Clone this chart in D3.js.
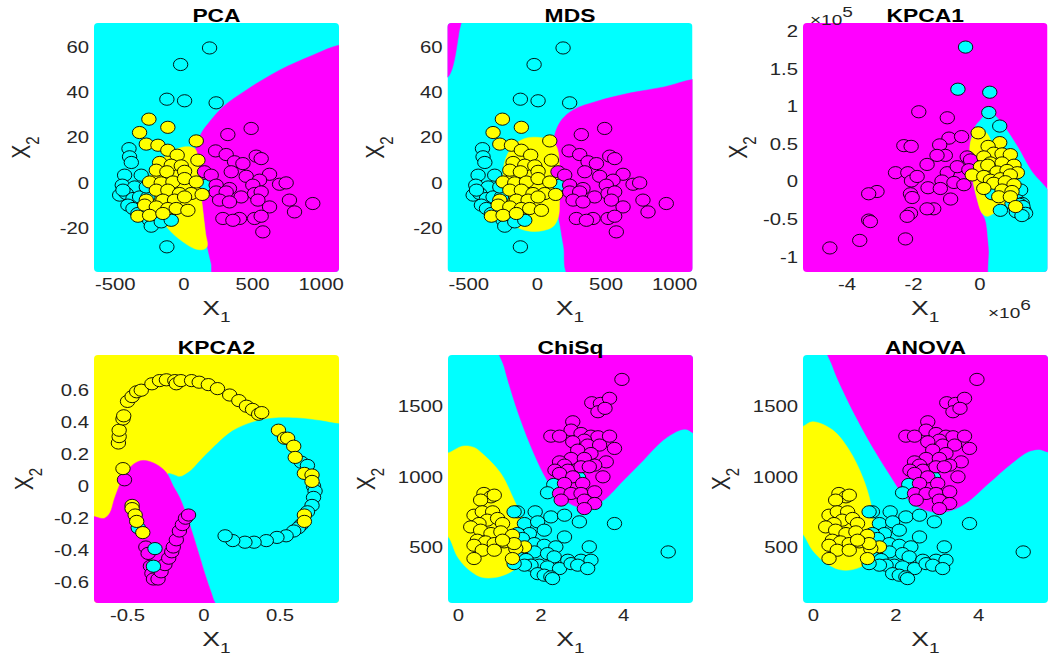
<!DOCTYPE html>
<html><head><meta charset="utf-8">
<script src="https://cdn.jsdelivr.net/npm/d3@7"></script>
<style>body{margin:0;background:#fff}svg{display:block}text{font-family:"Liberation Sans",Arial,Helvetica,sans-serif}</style>
</head><body><svg id="c" width="1049" height="658"></svg>
<script>
// ---------- tick labels ----------
const pcaXTicks=[-500,0,500,1000], pcaYTicks=[-20,0,20,40,60];
const kpca1XTicks=[-4,-2,0], kpca1YTicks=[-1,-0.5,0,0.5,1,1.5,2];
const kpca2XTicks=[-0.5,0,0.5], kpca2YTicks=[-0.6,-0.4,-0.2,0,0.2,0.4,0.6];
const featXTicks=[0,2,4], featYTicks=[500,1000,1500];
// ---------- axis domains ----------
const pcaXDomain=[-655,1130], pcaYDomain=[-39.3,70.5];
const kpca1XDomain=[-5.33,2.04], kpca1YDomain=[-1.2,2.11];
const kpca2XDomain=[-0.72,0.887], kpca2YDomain=[-0.73,0.82];
const featXDomain=[-0.25,5.68], featYDomain=[106,1863];

// ---------- PCA / MDS scores (same embedding) ----------
const pcaCyan=[[187,59.5],[-24,52.2],[-124,36.9],[5,36.2],[235,35.3],[-400,15.1],[-396,11.5],[-383,9],[-432,3.4],[-311,3.4],[-449,-1],[-359,-1.8],[-468,-5.4],[-420,-4.7],[-371,-6.9],[-323,-6.2],[-262,-6.2],[-408,-9.8],[-371,-11.3],[-335,-13.5],[-250,-16.5],[-238,-19.1],[-165,-17.2],[-92,-16.5],[-124,-28.2],[163,-1],[-444,-3.2],[-274,-1.8]];
const pcaMagenta=[[490,24],[320,21.3],[231,14.1],[308,12.5],[369,9.3],[527,11.8],[563,10.7],[430,8.5],[150,4.9],[345,4.9],[199,3.4],[454,2.9],[624,3.8],[551,1.2],[235,-1],[332,-2.5],[502,-1],[697,-0.6],[745,0],[235,-4],[308,-4],[417,-6.2],[515,-4.7],[563,-4],[769,-7.6],[939,-9.1],[260,-7.6],[332,-8.4],[539,-7.6],[624,-10.6],[806,-12.8],[284,-15.7],[405,-15.7],[515,-15.7],[563,-14.7],[575,-21.6],[357,-16.5]];
const pcaYellow=[[-255,28.1],[-323,22.2],[-117,24.5],[90,18.5],[-274,17.1],[-189,16.6],[-117,14.4],[-49,12.2],[102,10],[-177,9],[-92,7.8],[-19,7.5],[-201,5.6],[-124,4.9],[5,5.1],[-250,0.4],[-165,0],[-80,0.4],[5,1.9],[90,0.4],[-201,-3.2],[-117,-3.2],[-32,-4.7],[53,-4.7],[133,-5.1],[-274,-7.6],[-153,-7.6],[-68,-7.6],[5,-6.2],[-286,-9.8],[-201,-10.6],[-117,-11.3],[-56,-11.3],[29,-12.1],[-335,-14.7],[-250,-14.3],[-153,-13.5]];

// ---------- KPCA1 scores (x in 1e6, y in 1e5) ----------
const kpca1Cyan=[[-0.43,1.79],[-0.66,1.23],[0.30,1.19],[0.27,0.92],[0.60,0.74],[1.23,-0.11],[1.13,-0.25],[1.28,-0.29],[1.18,-0.36],[1.33,-0.38],[1.23,-0.42],[0.97,-0.29],[0.62,-0.38],[0.32,-0.07],[0.37,-0.16],[1.20,-0.30],[1.30,-0.33],[1.10,-0.40],[1.38,-0.42],[1.27,-0.45]];
const kpca1Magenta=[[-1.84,0.93],[-0.98,0.85],[-0.93,0.58],[-0.55,0.60],[-1.21,0.49],[-2.29,0.48],[-2.07,0.47],[-1.04,0.35],[-1.29,0.35],[-1.59,0.23],[-2.54,0.12],[-2.17,0.12],[-0.98,0.12],[-0.68,0.20],[-0.38,0.33],[-2.06,0.01],[-1.14,0.01],[-0.78,-0.01],[-1.89,0.07],[-3.10,-0.13],[-3.35,-0.16],[-1.56,-0.08],[-1.19,-0.09],[-0.48,-0.04],[-2.09,-0.16],[-2.04,-0.21],[-0.88,-0.23],[-1.39,-0.36],[-1.59,-0.36],[-2.09,-0.42],[-2.19,-0.46],[-3.35,-0.51],[-3.30,-0.53],[-3.62,-0.78],[-4.52,-0.88],[-2.24,-0.76],[-0.28,0.29],[-0.33,0.16]];
const kpca1Yellow=[[-0.05,0.65],[0.60,0.52],[0.25,0.47],[0.42,0.38],[0.67,0.37],[0.92,0.36],[0.12,0.33],[0.32,0.25],[0.67,0.25],[1.03,0.22],[0.02,0.20],[-0.23,0.09],[0.24,0.22],[0.52,0.13],[0.82,0.15],[1.13,0.12],[0.12,0.07],[0.32,0.02],[0.62,0.04],[0.92,0.09],[0.42,-0.02],[0.77,0],[1.03,-0.04],[0.12,-0.09],[0.67,-0.11],[0.97,-0.13],[0.57,-0.20],[0.92,-0.20],[1.08,-0.33]];

// ---------- KPCA2 scores ----------
const kpca2Cyan=[[0.64,0.15],[0.68,0.13],[0.72,0],[0.73,-0.03],[0.72,-0.07],[0.71,-0.12],[0.68,-0.16],[0.64,-0.24],[0.62,-0.26],[0.59,-0.28],[0.54,-0.31],[0.48,-0.32],[0.41,-0.34],[0.33,-0.35],[0.27,-0.35],[0.19,-0.34],[0.14,-0.31],[-0.43,-0.26],[-0.32,-0.39],[-0.33,-0.50]];
const kpca2Magenta=[[-0.52,0.04],[-0.38,-0.38],[-0.365,-0.42],[-0.35,-0.50],[-0.34,-0.545],[-0.33,-0.58],[-0.30,-0.58],[-0.28,-0.535],[-0.255,-0.49],[-0.23,-0.45],[-0.21,-0.41],[-0.20,-0.38],[-0.18,-0.335],[-0.16,-0.28],[-0.14,-0.24],[-0.12,-0.20],[-0.10,-0.18]];
const kpca2Yellow=[[-0.53,0.11],[-0.56,0.27],[-0.555,0.31],[-0.555,0.35],[-0.53,0.42],[-0.525,0.44],[-0.50,0.53],[-0.47,0.56],[-0.44,0.59],[-0.41,0.60],[-0.34,0.64],[-0.29,0.66],[-0.245,0.665],[-0.19,0.66],[-0.18,0.64],[-0.15,0.66],[-0.08,0.66],[-0.03,0.65],[0.03,0.635],[0.09,0.61],[0.17,0.57],[0.23,0.535],[0.28,0.50],[0.32,0.48],[0.36,0.45],[0.38,0.46],[0.49,0.35],[0.53,0.30],[0.55,0.30],[0.59,0.25],[0.60,0.18],[0.66,0.08],[0.71,0.07],[0.71,0.03],[0.66,-0.18],[0.66,-0.22],[-0.47,-0.12],[-0.47,-0.14],[-0.45,-0.18],[-0.44,-0.22],[-0.40,-0.29]];

// ---------- ChiSq / ANOVA selected features ----------
const featCyan=[[2.91,995],[2.31,946],[2.16,887],[1.86,752],[1.43,752],[2.24,716],[2.57,728],[2.93,681],[3.78,669],[1.60,669],[1.92,681],[2.08,622],[1.72,598],[2.57,574],[1.43,598],[1.55,563],[1.84,527],[2.08,515],[2.36,504],[3.17,504],[1.60,480],[1.84,468],[2.16,456],[1.43,433],[1.64,414],[2.32,433],[2.65,409],[2.97,409],[3.21,409],[1.96,374],[1.76,374],[1.60,374],[2.16,362],[2.45,350],[2.73,385],[2.89,374],[3.13,350],[1.92,314],[2.08,303],[2.24,291],[2.28,279],[1.35,385],[5.08,468],[1.35,752]];
const featMagenta=[[3.96,1690],[3.23,1525],[3.44,1520],[3.66,1556],[3.38,1461],[3.55,1485],[2.77,1390],[2.73,1331],[2.24,1288],[2.45,1288],[2.97,1307],[3.21,1288],[3.38,1284],[3.66,1288],[3.05,1260],[2.77,1248],[3.13,1225],[3.42,1225],[3.78,1201],[2.89,1189],[3.21,1165],[2.73,1130],[3.05,1130],[3.58,1106],[2.45,1106],[2.57,1083],[3.30,1083],[2.34,1047],[2.65,1047],[2.97,1071],[3.17,1071],[2.45,1024],[2.77,1000],[3.50,1000],[3.01,953],[2.57,953],[2.45,882],[2.73,882],[2.97,882],[3.30,894],[2.49,835],[3.05,835],[3.30,811],[3.05,775]];
const featYellow=[[0.62,882],[0.79,858],[0.87,870],[0.54,835],[0.38,728],[0.58,752],[0.83,752],[0.70,693],[0.95,705],[1.07,669],[0.50,669],[0.30,645],[0.54,622],[0.79,598],[1.03,610],[1.31,586],[0.46,551],[0.66,539],[0.87,527],[1.11,539],[1.60,504],[1.39,492],[0.38,515],[0.58,480],[0.87,480],[1.35,527],[0.38,421],[1.31,421],[1.07,551]];

// ---------- predicted-class regions (boundary outlines, data units) ----------
const pcaMagentaRegion=[[1250,60.7],[1130,60.7],[939,56.3],[697,49.7],[454,40.9],[284,33.5],[187,26.9],[126,21.8],[100,17],[85,14.7],[104,10],[119,-1.8],[138,-12.1],[158,-22.3],[170,-27.9],[199,-35.6],[222,-42],[1250,-42]];
const pcaYellowRegion=[[41,15.9],[85,14.7],[104,10],[119,-1.8],[138,-12.1],[158,-22.3],[170,-27.9],[138,-29.4],[78,-29],[-7,-26],[-104,-20.9],[-189,-13.5],[-245,-4.7],[-245,2.6],[-189,8.5],[-104,13.2],[-32,15.4]];
const mdsMagentaCorner=[[-720,75],[-555,75],[-572,66.2],[-587,60.3],[-604,54.4],[-628,49.2],[-653,46.7],[-720,45]];
const mdsMagentaRegion=[[1250,45.6],[1132,45.6],[924,42.3],[680,39.7],[435,36],[264,32.3],[178,27.9],[130,22],[122,17.6],[147,14.7],[161,7.4],[161,-7.4],[154,-14.7],[166,-19],[191,-28],[240,-42],[1250,-42]];
const mdsYellowRegion=[[-5,20.1],[68,19.4],[122,17.6],[147,14.7],[161,7.4],[161,-7.4],[154,-14.7],[117,-19.1],[44,-21],[-54,-21.3],[-139,-19.8],[-200,-16.2],[-237,-10.3],[-249,-1.5],[-245,7.4],[-213,13.2],[-152,17.6],[-78,19.8]];
const kpca1CyanRegion=[[0.02,0.82],[0.20,0.90],[0.42,0.89],[0.72,0.74],[1.13,0.47],[1.53,0.16],[2.3,-0.3],[2.3,-1.4],[0.39,-1.4],[0.27,-0.87],[0.17,-0.51],[0.07,-0.42],[-0.10,-0.20],[-0.23,0.07],[-0.30,0.33],[-0.26,0.56],[-0.13,0.74]];
const kpca1YellowRegion=[[-0.03,0.70],[0.20,0.65],[0.42,0.47],[0.82,0.20],[1.08,-0.07],[0.82,-0.29],[0.42,-0.42],[0.22,-0.46],[0.07,-0.42],[-0.10,-0.20],[-0.23,0.07],[-0.30,0.33],[-0.26,0.56]];
const kpca2CyanRegion=[[1.0,0.39],[0.887,0.39],[0.76,0.41],[0.63,0.425],[0.455,0.425],[0.32,0.40],[0.19,0.346],[0.06,0.24],[-0.026,0.157],[-0.09,0.094],[-0.157,0.059],[-0.19,0.069],[-0.234,0.078],[-0.2,0.0],[-0.157,-0.073],[-0.092,-0.241],[-0.037,-0.409],[0.017,-0.577],[0.061,-0.70],[0.09,-0.8],[1.0,-0.8]];
const kpca2MagentaRegion=[[-0.8,-0.19],[-0.72,-0.19],[-0.68,-0.20],[-0.65,-0.20],[-0.616,-0.168],[-0.584,-0.073],[-0.53,0.052],[-0.463,0.136],[-0.398,0.161],[-0.31,0.136],[-0.245,0.084],[-0.2,0.0],[-0.157,-0.073],[-0.092,-0.241],[-0.037,-0.409],[0.017,-0.577],[0.061,-0.70],[0.09,-0.8],[-0.8,-0.8]];
const chiMagentaRegion=[[0.97,1950],[1.11,1780],[1.27,1615],[1.51,1402],[1.83,1165],[2.15,976],[2.47,858],[2.88,787],[3.2,787],[3.52,835],[4.0,976],[4.48,1118],[4.96,1260],[5.37,1331],[5.53,1336],[5.8,1300],[5.8,1950]];
const chiYellowRegion=[[-0.4,1170],[-0.24,1170],[0.10,1217],[0.38,1208],[0.62,1154],[1.03,1024],[1.35,835],[1.60,669],[1.76,504],[1.60,409],[1.27,326],[0.87,286],[0.54,291],[0.22,350],[-0.02,433],[-0.24,574],[-0.4,600]];
const anovaMagentaRegion=[[0.33,1950],[0.47,1780],[0.71,1615],[1.03,1426],[1.43,1213],[1.83,1024],[2.23,858],[2.71,764],[3.2,752],[3.68,811],[4.24,953],[4.8,1095],[5.2,1177],[5.45,1194],[5.8,1180],[5.8,1950]];
const anovaYellowRegion=[[-0.4,1355],[-0.27,1355],[-0.02,1390],[0.47,1331],[0.87,1189],[1.19,1000],[1.39,811],[1.47,622],[1.43,480],[1.27,385],[0.95,343],[0.63,343],[0.27,397],[-0.02,480],[-0.27,598],[-0.4,610]];

// ---------- drawing ----------
const COL={C:"#00ffff",M:"#ff00ff",Y:"#ffff00"};
const SX=1.27, TXT="#262626";
const svg=d3.select("#c");

const panels=[
 {title:"PCA",rect:[94,23,339,272],xd:pcaXDomain,yd:pcaYDomain,xt:pcaXTicks,yt:pcaYTicks,bg:"C",
  regions:[["M",pcaMagentaRegion],["Y",pcaYellowRegion]],pts:[["C",pcaCyan],["M",pcaMagenta],["Y",pcaYellow]],ylx:23},
 {title:"MDS",rect:[447.5,23,692.5,272],xd:pcaXDomain,yd:pcaYDomain,xt:pcaXTicks,yt:pcaYTicks,bg:"C",
  regions:[["M",mdsMagentaCorner],["M",mdsMagentaRegion],["Y",mdsYellowRegion]],pts:[["C",pcaCyan],["M",pcaMagenta],["Y",pcaYellow]],ylx:377},
 {title:"KPCA1",rect:[803,23,1047.5,272],xd:kpca1XDomain,yd:kpca1YDomain,xt:kpca1XTicks,yt:kpca1YTicks,bg:"M",
  regions:[["C",kpca1CyanRegion],["Y",kpca1YellowRegion]],pts:[["M",kpca1Magenta],["C",kpca1Cyan],["Y",kpca1Yellow]],ylx:740,exp:true},
 {title:"KPCA2",rect:[94,355,339,603],xd:kpca2XDomain,yd:kpca2YDomain,xt:kpca2XTicks,yt:kpca2YTicks,bg:"Y",
  regions:[["C",kpca2CyanRegion],["M",kpca2MagentaRegion]],pts:[["M",kpca2Magenta],["C",kpca2Cyan],["Y",kpca2Yellow]],ylx:26},
 {title:"ChiSq",rect:[448,355,693,603],xd:featXDomain,yd:featYDomain,xt:featXTicks,yt:featYTicks,bg:"C",
  regions:[["M",chiMagentaRegion],["Y",chiYellowRegion]],pts:[["C",featCyan],["M",featMagenta],["Y",featYellow]],ylx:368},
 {title:"ANOVA",rect:[803,355,1048,603],xd:featXDomain,yd:featYDomain,xt:featXTicks,yt:featYTicks,bg:"C",
  regions:[["M",anovaMagentaRegion],["Y",anovaYellowRegion]],pts:[["C",featCyan],["M",featMagenta],["Y",featYellow]],ylx:723}
];

function stext(g,x,y,opts){
  const t=g.append("text").attr("transform",`translate(${x},${y}) scale(${SX},1)`+(opts.rot?` rotate(${opts.rot})`:""))
    .attr("text-anchor",opts.anchor||"middle").attr("font-size",opts.size||16)
    .attr("fill",opts.fill||TXT).attr("font-weight",opts.weight||"normal");
  if(opts.dy) t.attr("dy",opts.dy);
  return t;
}

panels.forEach((p,i)=>{
  const [x0,y0,x1,y1]=p.rect;
  const xs=d3.scaleLinear().domain(p.xd).range([x0,x1]);
  const ys=d3.scaleLinear().domain(p.yd).range([y1,y0]);
  const g=svg.append("g");
  const cid="clip"+i;
  g.append("clipPath").attr("id",cid).append("rect").attr("x",x0).attr("y",y0)
    .attr("width",x1-x0).attr("height",y1-y0).attr("rx",4).attr("ry",4);
  const pg=g.append("g").attr("clip-path",`url(#${cid})`);
  pg.append("rect").attr("x",x0).attr("y",y0).attr("width",x1-x0).attr("height",y1-y0).attr("fill",COL[p.bg]);
  const line=d3.line().x(d=>xs(d[0])).y(d=>ys(d[1])).curve(d3.curveCatmullRomClosed.alpha(0.5));
  p.regions.forEach(([c,poly])=>{
    pg.append("path").attr("d",line(poly)).attr("fill",COL[c]).attr("stroke",COL[c]).attr("stroke-width",0.5);
  });
  p.pts.forEach(([c,arr])=>{
    pg.selectAll(null).data(arr).enter().append("ellipse")
      .attr("cx",d=>xs(d[0])).attr("cy",d=>ys(d[1])).attr("rx",7.2).attr("ry",6.1)
      .attr("fill",COL[c]).attr("stroke","#000").attr("stroke-width",0.9);
  });
  // ticks
  p.xt.forEach(v=>{ stext(g,xs(v),y1+18,{size:16}).text(String(v)); });
  p.yt.forEach(v=>{ stext(g,x0-5,ys(v),{size:16,anchor:"end",dy:"0.36em"}).text(String(v)); });
  // title
  stext(g,(x0+x1)/2,y0-1.5,{size:18,weight:"bold",fill:"#000"}).text(p.title);
  // x label
  const xl=stext(g,(x0+x1)/2,y1+43,{size:21});
  xl.append("tspan").text("X");
  xl.append("tspan").attr("font-size",15).attr("dy",7).text("1");
  // y label
  const yl=stext(g,p.ylx+7,(y0+y1)/2,{size:21,rot:-90});
  yl.append("tspan").text("X");
  yl.append("tspan").attr("font-size",15).attr("dy",7).text("2");
  if(p.exp){
    const e1=stext(g,810,25,{size:15,anchor:"start"});
    e1.append("tspan").text("\u00d710");
    e1.append("tspan").attr("dy",-8).text("5");
    const e2=stext(g,988,318,{size:15,anchor:"start"});
    e2.append("tspan").text("\u00d710");
    e2.append("tspan").attr("dy",-8).text("6");
  }
});
</script></body></html>
